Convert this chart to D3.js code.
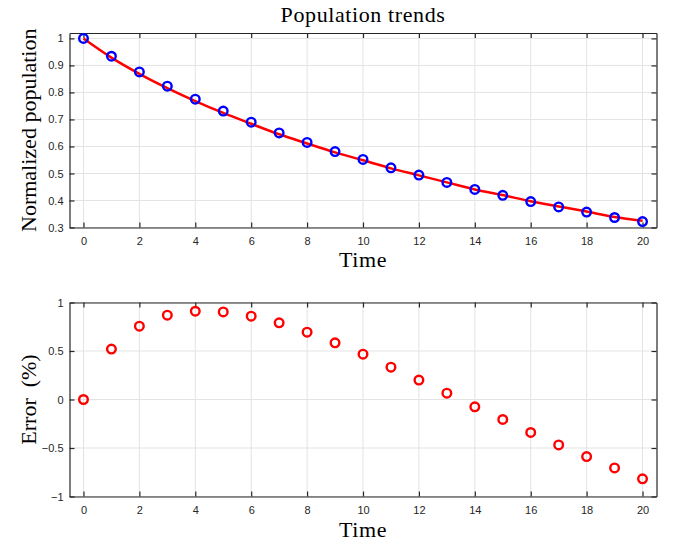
<!DOCTYPE html>
<html>
<head>
<meta charset="utf-8">
<script src="https://cdn.jsdelivr.net/npm/d3@7"></script>
<style>
  body { margin: 0; background: #fff; }
  .tick text { font-family: "Liberation Sans", Arial, sans-serif; font-size: 11px; fill: #262626; }
  .lbl { font-family: "Liberation Serif", "DejaVu Serif", serif; fill: #000; }
</style>
</head>
<body>
<svg id="chart"></svg>
<script>
// data
const times = [0,1,2,3,4,5,6,7,8,9,10,11,12,13,14,15,16,17,18,19,20];
const population = [1.0,0.934,0.876,0.823,0.775,0.731,0.690,0.650,0.615,0.581,0.552,0.521,0.494,0.467,0.441,0.419,0.396,0.376,0.357,0.337,0.322];
const fitted = [1.0,0.929,0.869,0.816,0.768,0.724,0.684,0.645,0.611,0.578,0.549,0.519,0.493,0.467,0.441,0.420,0.397,0.378,0.359,0.339,0.325];
const errorPct = [0,0.52,0.756,0.869,0.91,0.903,0.859,0.79,0.694,0.584,0.467,0.333,0.2,0.065,-0.075,-0.206,-0.34,-0.468,-0.588,-0.705,-0.818];
const xTicks = [0,2,4,6,8,10,12,14,16,18,20];
const popTicks = [0.3,0.4,0.5,0.6,0.7,0.8,0.9,1];
const errTicks = [-1,-0.5,0,0.5,1];

const W = 680, H = 543;
const svg = d3.select('#chart').attr('width', W).attr('height', H);

const left = 69.5, right = 656.5;
const axisColor = '#262626';
const gridColor = '#e3e3e3';

function panel(top, bottom, yDomain, yTicks, yFmt) {
  const x = d3.scaleLinear().domain([-0.5, 20.5]).range([left, right]);
  const y = d3.scaleLinear().domain(yDomain).range([bottom, top]);
  const g = svg.append('g');

  // grid
  g.append('g').selectAll('line').data(xTicks).join('line')
    .attr('x1', d => x(d)).attr('x2', d => x(d))
    .attr('y1', top).attr('y2', bottom)
    .attr('stroke', gridColor).attr('stroke-width', 1);
  g.append('g').selectAll('line').data(yTicks).join('line')
    .attr('x1', left).attr('x2', right)
    .attr('y1', d => y(d)).attr('y2', d => y(d))
    .attr('stroke', gridColor).attr('stroke-width', 1);

  // axes (ticks inside, mirrored)
  const bottomAxis = g.append('g').attr('transform', `translate(0,${bottom})`)
    .call(d3.axisBottom(x).tickValues(xTicks).tickSizeInner(-5).tickSizeOuter(0).tickPadding(10));
  const leftAxis = g.append('g').attr('transform', `translate(${left},0)`)
    .call(d3.axisLeft(y).tickValues(yTicks).tickFormat(yFmt).tickSizeInner(-5).tickSizeOuter(0).tickPadding(6));
  const topAxis = g.append('g').attr('transform', `translate(0,${top})`)
    .call(d3.axisTop(x).tickValues(xTicks).tickSizeInner(-5).tickSizeOuter(0).tickFormat(''));
  const rightAxis = g.append('g').attr('transform', `translate(${right},0)`)
    .call(d3.axisRight(y).tickValues(yTicks).tickSizeInner(-5).tickSizeOuter(0).tickFormat(''));
  [bottomAxis, leftAxis, topAxis, rightAxis].forEach(a => {
    a.select('.domain').attr('stroke', axisColor).attr('stroke-width', 1.2);
    a.selectAll('.tick line').attr('stroke', axisColor).attr('stroke-width', 1.2);
  });
  return { g, x, y };
}

// top panel
const p1 = panel(33, 227.5, [0.3, 1.02], popTicks, d => d3.format('')(d));
const line = d3.line().x((d, i) => p1.x(times[i])).y(d => p1.y(d)).curve(d3.curveMonotoneX);
p1.g.append('path').attr('d', line(fitted))
  .attr('fill', 'none').attr('stroke', '#ff0000').attr('stroke-width', 2.5);
p1.g.append('g').selectAll('circle').data(population).join('circle')
  .attr('cx', (d, i) => p1.x(times[i])).attr('cy', d => p1.y(d))
  .attr('r', 4.3).attr('fill', 'none').attr('stroke', '#0000ff').attr('stroke-width', 2.4);

// bottom panel
const p2 = panel(302.5, 496.5, [-1, 1], errTicks, d => d3.format('')(d));
p2.g.append('g').selectAll('circle').data(errorPct).join('circle')
  .attr('cx', (d, i) => p2.x(times[i])).attr('cy', d => p2.y(d))
  .attr('r', 4.3).attr('fill', 'none').attr('stroke', '#ff0000').attr('stroke-width', 2.4);

// labels
const cx = (left + right) / 2;
svg.append('text').attr('class', 'lbl').attr('x', cx).attr('y', 22)
  .attr('text-anchor', 'middle').attr('font-size', 22).attr('letter-spacing', 0.6).text('Population trends');
svg.append('text').attr('class', 'lbl').attr('x', cx).attr('y', 267)
  .attr('text-anchor', 'middle').attr('font-size', 22).attr('letter-spacing', 0.6).text('Time');
svg.append('text').attr('class', 'lbl').attr('x', cx).attr('y', 537)
  .attr('text-anchor', 'middle').attr('font-size', 22).attr('letter-spacing', 0.6).text('Time');
svg.append('text').attr('class', 'lbl')
  .attr('transform', `translate(36,${(33 + 227.5) / 2}) rotate(-90)`)
  .attr('text-anchor', 'middle').attr('font-size', 22).text('Normalized population');
svg.append('text').attr('class', 'lbl')
  .attr('transform', `translate(36,${(302.5 + 496.5) / 2}) rotate(-90)`)
  .attr('text-anchor', 'middle').attr('font-size', 22).attr('xml:space', 'preserve').text('Error  (%)');
</script>
</body>
</html>
